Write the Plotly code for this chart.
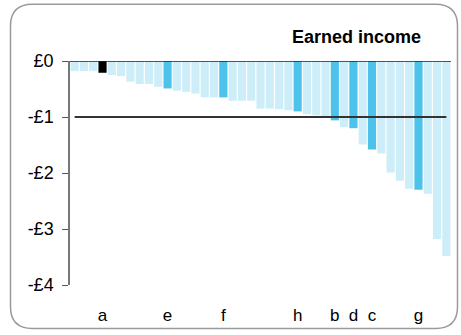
import plotly.graph_objects as go

# ---- data ----
values = [-0.18, -0.18, -0.18, -0.21, -0.25, -0.27, -0.37, -0.41, -0.41, -0.46,
          -0.49, -0.53, -0.55, -0.58, -0.65, -0.65, -0.65, -0.71, -0.71, -0.71,
          -0.85, -0.85, -0.86, -0.88, -0.90, -0.95, -0.97, -0.99, -1.06, -1.18,
          -1.20, -1.49, -1.58, -1.65, -1.99, -2.14, -2.28, -2.30, -2.37, -3.18,
          -3.48]
labels = ["", "", "", "a", "", "", "", "", "", "",
          "e", "", "", "", "", "", "f", "", "", "",
          "", "", "", "", "h", "", "", "", "b", "",
          "d", "", "c", "", "", "", "", "g", "", "",
          ""]
groups = ["other"] * 41
for i, l in enumerate(labels):
    if l:
        groups[i] = "highlight"
groups[3] = "focus"
reference_value = -1.0
title_text = "Earned income"
ytick_vals = [0, -1, -2, -3, -4]
ytick_text = ["£0", "-£1", "-£2", "-£3", "-£4"]

# ---- style ----
palette = {"other": "#CDEEF9", "highlight": "#4DC3EC", "focus": "#000000"}
W, H = 461, 335
ML, MR, MT, MB = 70, 10, 61, 47
FONT = "Liberation Sans, Arial, sans-serif"

x = list(range(len(values)))
tickvals = [i for i, l in enumerate(labels) if l]
ticktext = [l for l in labels if l]

fig = go.Figure(go.Bar(
    x=x, y=values,
    marker=dict(color=[palette[g] for g in groups], line=dict(width=0)),
    hoverinfo="skip",
))

def px2paper(px, py):
    pw = W - ML - MR
    ph = H - MT - MB
    return (px - ML) / pw, (H - MB - py) / ph

# rounded border
L, R, T, B, rad = 10.5, 457.5, 3.5, 332.0, 22
def P(px, py):
    a, b = px2paper(px, py)
    return f"{a:.5f},{b:.5f}"
path = (f"M {P(L+rad, T)} L {P(R-rad, T)} Q {P(R, T)} {P(R, T+rad)} "
        f"L {P(R, B-rad)} Q {P(R, B)} {P(R-rad, B)} L {P(L+rad, B)} "
        f"Q {P(L, B)} {P(L, B-rad)} L {P(L, T+rad)} Q {P(L, T)} {P(L+rad, T)} Z")

shapes = [
    dict(type="path", xref="paper", yref="paper", path=path,
         line=dict(color="#9a9a9a", width=1.5), layer="below"),
    # zero line
    dict(type="line", xref="paper", yref="y", x0=0, x1=1, y0=0, y1=0,
         line=dict(color="#222222", width=1.5), layer="above"),
    # reference line
    dict(type="line", xref="x", yref="y", x0=x[0], x1=x[-1],
         y0=reference_value, y1=reference_value,
         line=dict(color="#333333", width=2), layer="above"),
]

fig.update_layout(
    width=W, height=H,
    margin=dict(l=ML, r=MR, t=MT, b=MB),
    paper_bgcolor="white", plot_bgcolor="white",
    showlegend=False,
    bargap=0.12,
    font=dict(family=FONT, size=17, color="#000000"),
    shapes=shapes,
    annotations=[dict(text=f"<b>{title_text}</b>", xref="paper", yref="paper",
                      x=px2paper(423, 0)[0], y=px2paper(0, 37)[1],
                      xanchor="right", yanchor="middle", showarrow=False,
                      font=dict(family=FONT, size=18, color="#000000"))],
    xaxis=dict(range=[-0.5, len(values) - 0.5], tickvals=tickvals, ticktext=ticktext,
               showgrid=False, zeroline=False, showline=False, ticks="",
               ticklabelstandoff=18, tickfont=dict(size=17)),
    yaxis=dict(range=[-4, 0], tickvals=ytick_vals, ticktext=ytick_text,
               showgrid=False, zeroline=False, showline=True, linecolor="#777777",
               linewidth=1.5, ticks="outside", ticklen=6, tickcolor="#555555",
               tickwidth=1, ticklabelstandoff=5, tickfont=dict(size=18)),
)

fig.write_html("out.html", config={"displayModeBar": False},
               post_script="document.body.style.margin='0';")
